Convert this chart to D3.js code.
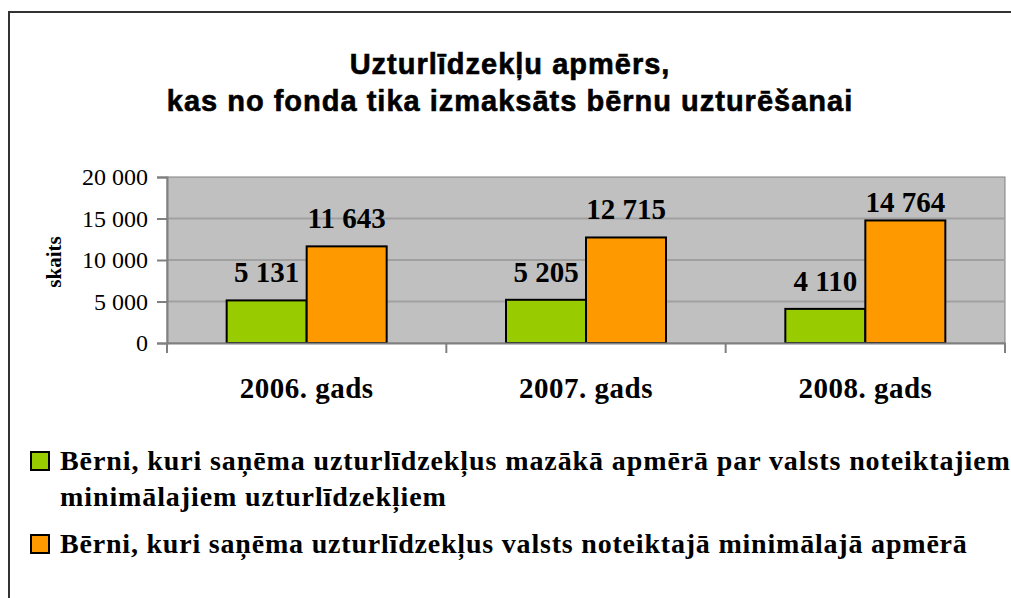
<!DOCTYPE html>
<html>
<head>
<meta charset="utf-8">
<script src="https://cdn.jsdelivr.net/npm/d3@7"></script>
<style>
  body { margin: 0; background: #fff; }
  svg { display: block; }
</style>
</head>
<body>
<svg id="chart" width="1011" height="598"></svg>
<script>
const years = ["2006. gads", "2007. gads", "2008. gads"]
const seriesNames = [
  "Bērni, kuri saņēma uzturlīdzekļus mazākā apmērā par valsts noteiktajiem minimālajiem uzturlīdzekļiem",
  "Bērni, kuri saņēma uzturlīdzekļus valsts noteiktajā minimālajā apmērā"
]
const belowMin = [5131, 5205, 4110]
const atMin = [11643, 12715, 14764]
const yTicks = [0, 5000, 10000, 15000, 20000]

const colors = ["#99cc00", "#ff9900"]
const w = 1011
const h = 598
const plot = { left: 167, right: 1005, top: 177, bottom: 343 }
const barW = 80
const serif = "'Liberation Serif', 'Times New Roman', serif"

const fmt = v => d3.format(",")(v).replace(/,/g, " ")

const svg = d3.select("#chart")

// outer frame
svg.append("rect")
  .attr("x", 9).attr("y", 12)
  .attr("width", w + 20).attr("height", h + 20)
  .attr("fill", "none")
  .attr("stroke", "#333")
  .attr("stroke-width", 2)

// title
const title = svg.append("text")
  .attr("text-anchor", "middle")
  .attr("font-family", "'Liberation Sans', Arial, sans-serif")
  .attr("font-weight", "bold")
  .attr("font-size", 29)
  .attr("letter-spacing", 1)
  .attr("stroke", "#000")
  .attr("stroke-width", 0.6)
title.append("tspan").attr("x", 510).attr("y", 74).text("Uzturlīdzekļu apmērs,")
title.append("tspan").attr("x", 510).attr("y", 111).text("kas no fonda tika izmaksāts bērnu uzturēšanai")

const xScale = d3.scaleBand()
  .domain(years)
  .range([plot.left, plot.right])

const x1 = d3.scaleBand()
  .domain([0, 1])
  .range([0, barW * 2])

const yScale = d3.scaleLinear()
  .domain([0, 20000])
  .range([plot.bottom, plot.top])

// plot background
svg.append("rect")
  .attr("x", plot.left).attr("y", plot.top)
  .attr("width", plot.right - plot.left)
  .attr("height", plot.bottom - plot.top)
  .attr("fill", "#c0c0c0")
  .attr("stroke", "#808080")
  .attr("stroke-width", 1)

// gridlines
svg.append("g")
  .selectAll("line")
  .data(yTicks.filter(t => t > 0 && t < 20000))
  .enter()
  .append("line")
  .attr("x1", plot.left).attr("x2", plot.right)
  .attr("y1", d => yScale(d)).attr("y2", d => yScale(d))
  .attr("stroke", "#a0a0a0")
  .attr("stroke-width", 2)

// y axis
const yAxis = d3.axisLeft(yScale)
  .tickValues(yTicks)
  .tickFormat(fmt)
  .tickSize(10)
  .tickPadding(9)

const yG = svg.append("g")
  .attr("transform", `translate(${plot.left}, 0)`)
  .call(yAxis)
yG.select(".domain").attr("stroke", "#808080").attr("stroke-width", 2)
yG.selectAll(".tick line").attr("stroke", "#808080").attr("stroke-width", 2)
yG.selectAll(".tick text")
  .attr("font-family", serif)
  .attr("font-size", 24)
  .attr("fill", "#000")
  .attr("dy", "0.32em")

// bars
const groups = svg.append("g")
  .selectAll("g")
  .data(years)
  .enter()
  .append("g")
  .attr("transform", d => `translate(${xScale(d) + (xScale.bandwidth() - barW * 2) / 2}, 0)`)

const seriesData = [belowMin, atMin]

groups.selectAll("rect")
  .data((d, i) => seriesData.map((s, k) => ({ k, v: s[i] })))
  .enter()
  .append("rect")
  .attr("x", d => x1(d.k))
  .attr("y", d => yScale(d.v))
  .attr("width", x1.bandwidth())
  .attr("height", d => yScale(0) - yScale(d.v))
  .attr("fill", d => colors[d.k])
  .attr("stroke", "#000")
  .attr("stroke-width", 2)

// labels sit above the bar but are kept inside the plot area
groups.selectAll("text")
  .data((d, i) => seriesData.map((s, k) => ({ k, v: s[i] })))
  .enter()
  .append("text")
  .attr("x", d => x1(d.k) + x1.bandwidth() / 2)
  .attr("y", d => Math.max(yScale(d.v) - 18, plot.top + 35))
  .attr("text-anchor", "middle")
  .attr("font-family", serif)
  .attr("font-weight", "bold")
  .attr("font-size", 29)
  .text(d => fmt(d.v))

// x axis
const xAxis = d3.axisBottom(xScale)
  .tickSize(0)
  .tickPadding(0)

const xG = svg.append("g")
  .attr("transform", `translate(0, ${plot.bottom})`)
  .call(xAxis)
xG.select(".domain").attr("stroke", "#808080").attr("stroke-width", 2)
xG.selectAll(".tick text")
  .attr("y", 55)
  .attr("dy", 0)
  .attr("font-family", serif)
  .attr("font-weight", "bold")
  .attr("font-size", 29)
  .attr("letter-spacing", 0.5)
  .attr("fill", "#000")

// category boundary ticks
svg.append("g")
  .selectAll("line")
  .data(years.map(d => xScale(d)).concat([plot.right]))
  .enter()
  .append("line")
  .attr("x1", d => d).attr("x2", d => d)
  .attr("y1", plot.bottom).attr("y2", plot.bottom + 10)
  .attr("stroke", "#808080")
  .attr("stroke-width", 2)

// y axis title
svg.append("text")
  .attr("transform", `translate(61, 262) rotate(-90)`)
  .attr("text-anchor", "middle")
  .attr("font-family", serif)
  .attr("font-weight", "bold")
  .attr("font-size", 21)
  .text("skaits")

// legend
const legend = svg.append("g")

legend.selectAll("rect")
  .data([0, 1])
  .enter()
  .append("rect")
  .attr("x", 31)
  .attr("y", d => [452, 535][d])
  .attr("width", 18).attr("height", 18)
  .attr("fill", d => colors[d])
  .attr("stroke", "#000")
  .attr("stroke-width", 2)

const leg1 = legend.append("text")
  .attr("font-family", serif)
  .attr("font-weight", "bold")
  .attr("font-size", 28)
  .attr("letter-spacing", 0.9)
leg1.append("tspan").attr("x", 60).attr("y", 470)
  .text("Bērni, kuri saņēma uzturlīdzekļus mazākā apmērā par valsts noteiktajiem")
leg1.append("tspan").attr("x", 60).attr("y", 506)
  .text("minimālajiem uzturlīdzekļiem")

legend.append("text")
  .attr("x", 60).attr("y", 553)
  .attr("font-family", serif)
  .attr("font-weight", "bold")
  .attr("font-size", 28)
  .attr("letter-spacing", 0.8)
  .text(seriesNames[1])
</script>
</body>
</html>
